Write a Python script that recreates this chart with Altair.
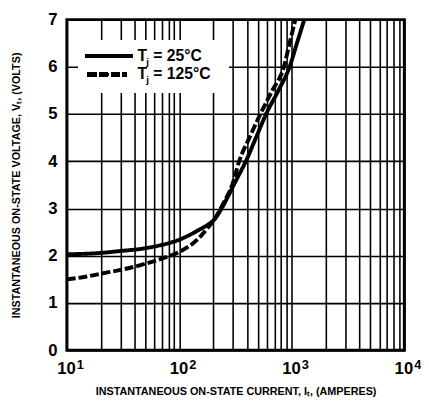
import altair as alt
import pandas as pd

# 25 C curve (solid)
solid_I = [10, 20, 30, 50, 70, 100, 150, 180, 205, 235, 270, 320, 390, 480, 590, 760, 955, 1110, 1290]
solid_V = [2.03, 2.06, 2.1, 2.16, 2.23, 2.34, 2.55, 2.66, 2.77, 2.98, 3.25, 3.6, 4.0, 4.5, 5.0, 5.5, 6.0, 6.5, 7.0]
# 125 C curve (dashed)
dashed_I = [10, 15, 20, 30, 50, 70, 100, 150, 180, 205, 245, 295, 340, 420, 525, 670, 850, 955, 1075]
dashed_V = [1.5, 1.56, 1.62, 1.7, 1.83, 1.94, 2.08, 2.38, 2.6, 2.77, 3.1, 3.5, 4.0, 4.5, 5.0, 5.5, 6.0, 6.5, 7.0]

series_names = ["25", "125"]
x_grid = [k * 10 ** d for d in (1, 2, 3) for k in range(1, 10)] + [10000]
y_ticks = [0, 1, 2, 3, 4, 5, 6, 7]
decades = [10, 100, 1000, 10000]
decade_base = ["10", "10", "10", "10"]
decade_exp = ["1", "2", "3", "4"]

df = pd.concat([
    pd.DataFrame({"I": solid_I, "V": solid_V, "series": series_names[0]}),
    pd.DataFrame({"I": dashed_I, "V": dashed_V, "series": series_names[1]}),
])
dec_df = pd.DataFrame({"I": decades, "base": decade_base, "exp": decade_exp})

FONT = "Liberation Sans"
H = 337
W = 344

x_scale = alt.Scale(type="log", domain=[10, 10000], nice=False)
y_scale = alt.Scale(domain=[0, 7], nice=False)

lines = alt.Chart(df).mark_line(color="black", strokeWidth=4, clip=True, interpolate="monotone").encode(
    x=alt.X("I:Q", scale=x_scale, axis=alt.Axis(
        values=x_grid, labels=False, grid=True, gridColor="black", gridWidth=1.6,
        gridOpacity=1, ticks=False, domain=False,
        title="INSTANTANEOUS ON-STATE CURRENT, I\u209c, (AMPERES)", titleFont=FONT,
        titleFontWeight="bold", titleFontSize=11, titleColor="black", titlePadding=36)),
    y=alt.Y("V:Q", scale=y_scale, axis=alt.Axis(
        values=y_ticks, grid=True, gridColor="black", gridWidth=1.6, gridOpacity=1,
        ticks=False, domain=False, labelFont=FONT, labelFontWeight="bold", labelFontSize=17,
        labelColor="black", labelPadding=10, labelFlush=False,
        title="INSTANTANEOUS ON-STATE VOLTAGE, V\u209c, (VOLTS)", titleFont=FONT,
        titleFontWeight="bold", titleFontSize=11, titleColor="black", titleX=-51, titleY=H / 2,
        titleAlign="center", titleBaseline="middle")),
    strokeDash=alt.StrokeDash("series:N", scale=alt.Scale(domain=series_names, range=[[1, 0], [9, 3]]),
                              legend=None),
    detail="series:N",
)

dec_base = alt.Chart(dec_df).mark_text(
    font=FONT, fontWeight="bold", fontSize=17, align="right", baseline="alphabetic", color="black", dx=9
).encode(x=alt.X("I:Q", scale=x_scale), y=alt.value(H + 24), text="base:N")
dec_exp = alt.Chart(dec_df).mark_text(
    font=FONT, fontWeight="bold", fontSize=13, align="left", baseline="alphabetic", color="black", dx=10
).encode(x=alt.X("I:Q", scale=x_scale), y=alt.value(H + 19), text="exp:N")

# legend box (white, covers grid)
box = alt.Chart(df).mark_rect(color="white").encode(
    x=alt.value(12), x2=alt.value(165), y=alt.value(21), y2=alt.value(74))
leg_solid = alt.Chart(df).mark_rule(color="black", strokeWidth=4).encode(
    x=alt.value(19), x2=alt.value(67), y=alt.value(37))
leg_dash = alt.Chart(df).mark_rule(color="black", strokeWidth=4, strokeDash=[9, 3]).encode(
    x=alt.value(21), x2=alt.value(61), y=alt.value(56))

def txt(s, x, y, size):
    return alt.Chart(pd.DataFrame({"t": [s]})).mark_text(
        font=FONT, fontWeight="bold", fontSize=size, align="left", baseline="middle", color="black"
    ).encode(text="t:N", x=alt.value(x), y=alt.value(y))

legend_texts = [
    txt("T", 72, 37, 16), txt("j", 81, 43, 10), txt("= 25\u00b0C", 88, 37, 16),
    txt("T", 72, 56, 16), txt("j", 81, 62, 10), txt("= 125\u00b0C", 88, 56, 16),
]

chart = alt.layer(lines, dec_base, dec_exp, box, leg_solid, leg_dash, *legend_texts).properties(
    width=W, height=H,
    autosize=alt.AutoSizeParams(type="none"),
    padding={"left": 60, "top": 8, "right": 17, "bottom": 50},
    background="white",
).configure_view(stroke="black", strokeWidth=3)

chart.save("out.html", embed_options={"renderer": "svg", "actions": False})
